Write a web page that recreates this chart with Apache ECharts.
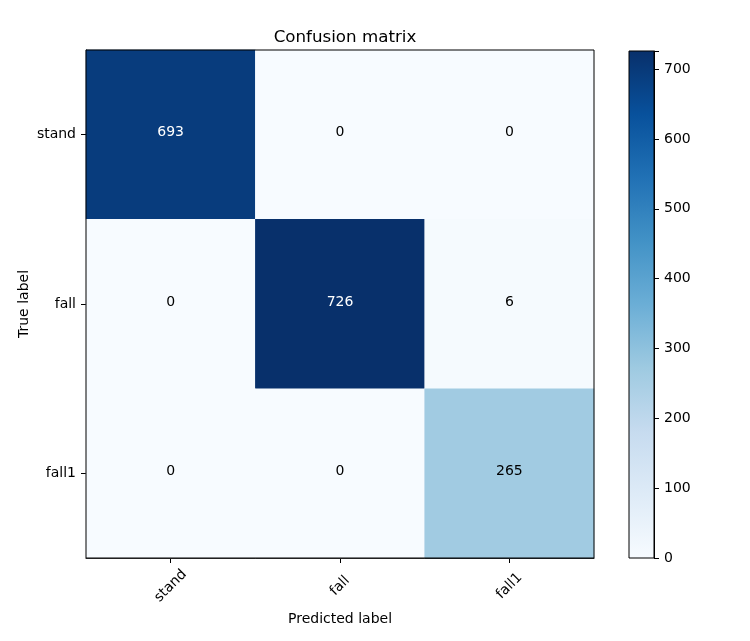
<!DOCTYPE html>
<html>
<head>
<meta charset="utf-8">
<script src="https://cdn.jsdelivr.net/npm/echarts@6/dist/echarts.min.js"></script>
<style>html,body{margin:0;padding:0;background:#fff}#c{width:750px;height:641px}</style>
</head>
<body>
<div id="c"></div>
<script>
const predictedLabels = ['stand', 'fall', 'fall1'];
const trueLabels = ['stand', 'fall', 'fall1'];
const matrixRows = [
  [693, 0, 0],
  [0, 726, 6],
  [0, 0, 265]
];
const colorbarTicks = [0, 100, 200, 300, 400, 500, 600, 700];
const blues = ['#f7fbff','#deebf7','#c6dbef','#9ecae1','#6baed6','#4292c6','#2171b5','#08519c','#08306b'];

const maxVal = Math.max(...matrixRows.flat());
const minVal = 0;
const cells = [];
matrixRows.forEach((row, i) => row.forEach((v, j) => cells.push({
  value: [j, i, v],
  label: { color: v > maxVal / 2 ? '#fff' : '#000' }
})));

const font = 'DejaVu Sans';
const fs = 14;
const chart = echarts.init(document.getElementById('c'));
chart.setOption({
  backgroundColor: '#fff',
  animation: false,
  title: {
    text: 'Confusion matrix', left: 340, top: 24, textAlign: 'center',
    textStyle: { fontFamily: font, fontSize: 16.7, fontWeight: 'normal', color: '#000' }
  },
  visualMap: {
    show: false, min: minVal, max: maxVal, seriesIndex: 0, dimension: 2,
    inRange: { color: blues }
  },
  grid: [
    { left: 86, top: 50, width: 508, height: 508, show: true, borderColor: '#000', borderWidth: 1, backgroundColor: 'transparent', z: 10 },
    { left: 629, top: 51, width: 25, height: 507, show: true, borderColor: '#000', borderWidth: 1, backgroundColor: 'transparent', z: 10 }
  ],
  xAxis: [
    {
      gridIndex: 0, type: 'category', data: predictedLabels, position: 'bottom',
      name: 'Predicted label', nameLocation: 'middle', nameGap: 54, nameMoveOverlap: false,
      nameTextStyle: { fontFamily: font, fontSize: fs, color: '#000' },
      axisLine: { show: true, lineStyle: { color: '#000', width: 1 } },
      axisTick: { show: true, alignWithLabel: true, length: 5, lineStyle: { color: '#000' } },
      axisLabel: { rotate: 45, align: 'center', verticalAlign: 'middle', margin: 28, fontFamily: font, fontSize: fs, color: '#000' },
      splitLine: { show: false }, splitArea: { show: false }
    },
    {
      gridIndex: 1, type: 'category', data: [''], show: false
    }
  ],
  yAxis: [
    {
      gridIndex: 0, type: 'category', data: trueLabels, inverse: true,
      name: 'True label', nameLocation: 'middle', nameGap: 55, nameRotate: 90, nameMoveOverlap: false,
      nameTextStyle: { fontFamily: font, fontSize: fs, color: '#000' },
      axisLine: { show: true, lineStyle: { color: '#000', width: 1 } },
      axisTick: { show: true, alignWithLabel: true, length: 5, lineStyle: { color: '#000' } },
      axisLabel: { margin: 10, fontFamily: font, fontSize: fs, color: '#000' },
      splitLine: { show: false }, splitArea: { show: false }
    },
    {
      gridIndex: 1, type: 'value', min: minVal, max: maxVal, interval: 100, position: 'right',
      axisLine: { show: true, lineStyle: { color: '#000', width: 1 } },
      axisTick: { show: true, length: 5, lineStyle: { color: '#000' } },
      axisLabel: {
        margin: 10, fontFamily: font, fontSize: fs, color: '#000',
        formatter: v => colorbarTicks.includes(v) ? String(v) : ''
      },
      splitLine: { show: false }
    }
  ],
  series: [
    {
      type: 'heatmap', xAxisIndex: 0, yAxisIndex: 0, data: cells,
      label: {
        show: true, fontFamily: font, fontSize: fs, color: '#000', offset: [0, -2],
        formatter: p => String(p.value[2])
      },
      itemStyle: { borderWidth: 0 },
      emphasis: { disabled: true }
    },
    {
      type: 'bar', xAxisIndex: 1, yAxisIndex: 1, data: [maxVal], barWidth: '100%',
      silent: true,
      itemStyle: {
        color: new echarts.graphic.LinearGradient(0, 1, 0, 0,
          blues.map((c, i) => ({ offset: i / (blues.length - 1), color: c })))
      }
    }
  ]
});
</script>
</body>
</html>
